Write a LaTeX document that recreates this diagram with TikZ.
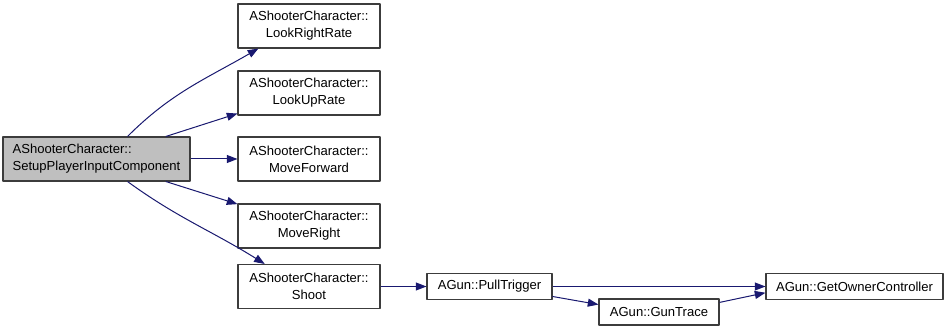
\documentclass[tikz,border=0pt]{standalone}
\usepackage{fontspec}
\setmainfont{Liberation Sans}
\usepackage{tikz}
\usetikzlibrary{arrows.meta}
\definecolor{cgedge}{HTML}{191970}
\definecolor{cgroot}{HTML}{BFBFBF}
\definecolor{cgframe}{HTML}{3C3C3C}

\begin{document}
\begin{tikzpicture}[x=0.75pt,y=-0.75pt,line join=round,
  font=\fontsize{9.8}{12.75}\selectfont,
  fn/.style={draw=cgframe,line width=0.8pt,fill=white,inner sep=0pt,align=center},
  member/.style={fn,minimum width=106.5pt,minimum height=33pt},
  gunfn/.style={fn,minimum height=19.5pt},
  rootfn/.style={fn,fill=cgroot,align=left,minimum width=140.25pt,minimum height=33pt},
  call/.style={draw=cgedge,line width=0.75pt,-{Triangle[length=8pt,width=6pt]}}]
\path[use as bounding box] (0,0) rectangle (948,331);
\fill[white] (0,0) rectangle (948,331);

% caller
\node[rootfn] (setup) at (96.5,159) {AShooterCharacter::\\SetupPlayerInputComponent};

% direct callees
\node[member] (lookright) at (309,26) {AShooterCharacter::\\LookRightRate};
\node[member] (lookup) at (309,93) {AShooterCharacter::\\LookUpRate};
\node[member] (forward) at (309,159) {AShooterCharacter::\\MoveForward};
\node[member] (right) at (309,226) {AShooterCharacter::\\MoveRight};
\node[member] (shoot) at (309,286.5) {AShooterCharacter::\\Shoot};

% gun calls
\node[gunfn,minimum width=93.75pt] (pull) at (489.5,286.5) {AGun::PullTrigger};
\node[gunfn,minimum width=90pt] (trace) at (659,312) {AGun::GunTrace};
\node[gunfn,minimum width=132.75pt] (owner) at (854.5,286.5) {AGun::GetOwnerController};

\draw[call] (setup.36) to[out=45,in=210] (lookright.204);
\draw[call] (setup.18) -- (lookup.196);
\draw[call] (setup) -- (forward);
\draw[call] (setup.-18) -- (right.163);
\draw[call] (setup.-36) to[out=-36,in=148] (shoot.153);
\draw[call] (shoot) -- (pull);
\draw[call] (pull) -- (owner);
\draw[call] (pull.-9.5) -- (trace.173);
\draw[call] (trace.9.5) -- (owner.184);
\end{tikzpicture}
\end{document}
